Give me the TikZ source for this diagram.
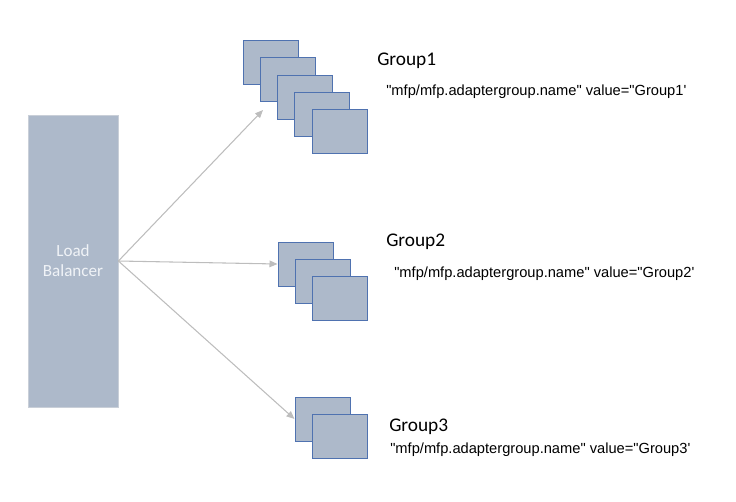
\documentclass[tikz,border=0pt]{standalone}
\usepackage{fontspec}
\setmainfont{Liberation Sans}
\newfontfamily\calib{Carlito}
\newfontfamily\arialf{Liberation Sans}
\usetikzlibrary{arrows.meta}
\definecolor{boxfill}{HTML}{ADB9CA}
\definecolor{boxline}{HTML}{4F72B0}
\definecolor{lbline}{HTML}{C9CFD8}
\definecolor{arrowc}{HTML}{BDBDBD}
\definecolor{lbtext}{HTML}{F0F3F7}
\tikzset{
  srv/.style={draw=boxline, fill=boxfill, line width=0.75pt, minimum width=41.25pt, minimum height=33pt, inner sep=0pt},
  lb/.style={draw=lbline, fill=boxfill, line width=0.6pt, minimum width=67.5pt, minimum height=219pt, inner sep=0pt,
     text=lbtext, font=\calib\fontsize{12.8}{15}\selectfont, align=center},
  grplabel/.style={anchor=base west, inner sep=0pt, font=\calib\fontsize{14.5}{17}\selectfont},
  cfg/.style={anchor=base west, inner sep=0pt, font=\arialf\fontsize{11}{13}\selectfont},
  conn/.style={draw=arrowc, line width=0.8pt, -{Triangle[width=5pt,length=6pt]}}
}
\begin{document}
\begin{tikzpicture}[x=0.75pt,y=-0.75pt]
\useasboundingbox (0,0) rectangle (736,501);
\node[lb] (lb) at (73,261) {Load\\Balancer};
% Group1
\node[srv] (g1a) at (270.5,62.5) {};
\node[srv] (g1b) at (287.75,79.75) {};
\node[srv] (g1c) at (305,97) {};
\node[srv] (g1d) at (322.25,114.25) {};
\node[srv] (g1e) at (339.5,131.5) {};
% Group2
\node[srv] (g2a) at (305.5,264) {};
\node[srv] (g2b) at (322.5,281.5) {};
\node[srv] (g2c) at (339.5,298.5) {};
% Group3
\node[srv] (g3a) at (322.5,419) {};
\node[srv] (g3b) at (339.5,436) {};
% labels
\node[grplabel] (l1) at (377,65) {Group1};
\node[cfg] (c1) at (386,95) {"mfp/mfp.adaptergroup.name" value="Group1'};
\node[grplabel] (l2) at (386,246) {Group2};
\node[cfg] (c2) at (394,277) {"mfp/mfp.adaptergroup.name" value="Group2'};
\node[grplabel] (l3) at (389,431) {Group3};
\node[cfg] (c3) at (390,453) {"mfp/mfp.adaptergroup.name" value="Group3'};
% connectors
\coordinate (t1) at (263,110);
\draw[conn] (lb.east) -- (t1);
\draw[conn] (lb.east) -- (g2a.west);
\draw[conn] (lb.east) -- (g3a.west);
\end{tikzpicture}
\end{document}
